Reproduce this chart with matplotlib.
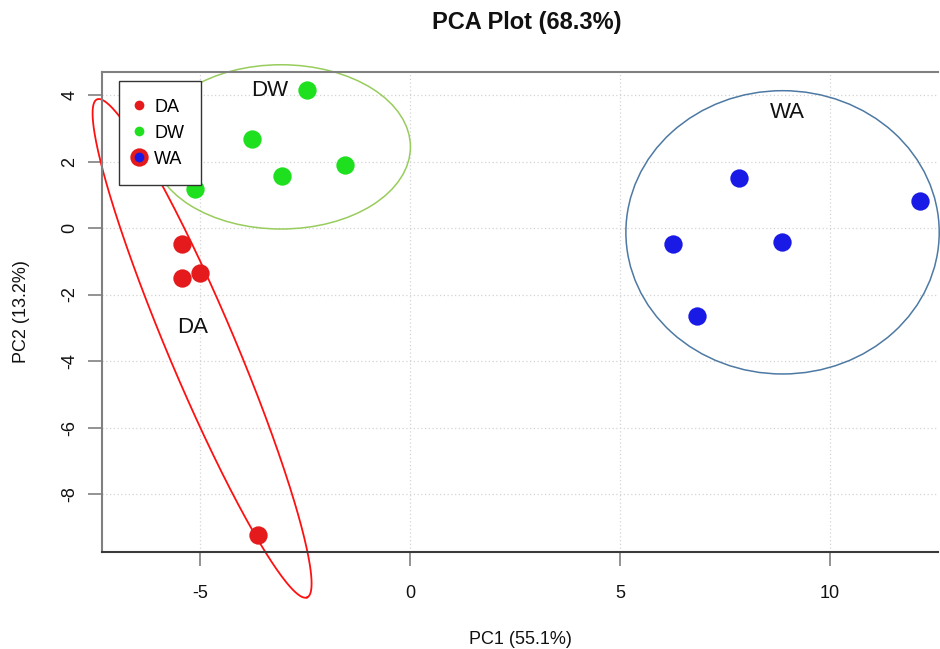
import numpy as np
import matplotlib
matplotlib.use("Agg")
import matplotlib.pyplot as plt
from matplotlib.patches import Ellipse
from matplotlib.lines import Line2D

plt.rcParams["font.family"] = ["Liberation Sans", "DejaVu Sans"]

# ── data ────────────────────────────────────────────────────────────────
da_pc1 = [-5.44, -5.44, -5.01, -3.61]
da_pc2 = [-0.49, -1.49, -1.34, -9.23]
dw_pc1 = [-2.46, -3.76, -3.04, -1.54, -5.12]
dw_pc2 = [4.15, 2.67, 1.56, 1.89, 1.16]
wa_pc1 = [7.84, 12.15, 6.27, 8.85, 6.84]
wa_pc2 = [1.51, 0.81, -0.49, -0.43, -2.65]

# ellipses: centre + semi axes (DW, WA axis-aligned; DA tilted, conjugate vectors)
dw_ell = dict(centre=(-3.07, 2.44), semi=(3.08, 2.47))
wa_ell = dict(centre=(8.87, -0.13), semi=(3.73, 4.26))
da_centre = (-4.95, -3.62)
da_u = (2.50, -7.49)
da_v = (0.74, 0.39)

group_labels = ["DA", "DW", "WA"]
label_pos = [(-5.17, -3.0), (-3.33, 4.15), (8.98, 3.46)]

x_ticks = [-5, 0, 5, 10]
y_ticks = [4, 2, 0, -2, -4, -6, -8]

RED, GREEN, BLUE = "#e41a1c", "#1fe01f", "#1a1ae6"

fig = plt.figure(figsize=(9.4, 6.49), dpi=100)
ax = fig.add_axes([102 / 940, 1 - 552 / 649, 836 / 940, 480 / 649])
ax.set_xlim(-7.333, 12.571)
ax.set_ylim(-9.744, 4.692)

ax.set_xticks(x_ticks)
ax.set_yticks(y_ticks)
ax.grid(True, color="#d4d4d4", lw=0.9, ls=(0, (1, 2)))
ax.set_axisbelow(True)

ms = 13.2
ax.plot(da_pc1, da_pc2, "o", color=RED, ms=ms, mec="none", zorder=3)
ax.plot(dw_pc1, dw_pc2, "o", color=GREEN, ms=ms, mec="none", zorder=3)
ax.plot(wa_pc1, wa_pc2, "o", color=BLUE, ms=ms, mec="none", zorder=3)

# ellipses
ax.add_patch(Ellipse(dw_ell["centre"], 2 * dw_ell["semi"][0], 2 * dw_ell["semi"][1],
                     fill=False, ec="#98cc5c", lw=1.1, zorder=2, clip_on=False))
ax.add_patch(Ellipse(wa_ell["centre"], 2 * wa_ell["semi"][0], 2 * wa_ell["semi"][1],
                     fill=False, ec="#4d79a3", lw=1.1, zorder=2, clip_on=False))
t = np.linspace(0, 2 * np.pi, 400)
ax.plot(da_centre[0] + da_u[0] * np.cos(t) + da_v[0] * np.sin(t),
        da_centre[1] + da_u[1] * np.cos(t) + da_v[1] * np.sin(t),
        color="#ff1010", lw=1.3, zorder=2, clip_on=False)

for lab, (px, py) in zip(group_labels, label_pos):
    ax.text(px, py, lab, fontsize=16, ha="center", va="center", color="#111")

# spines / ticks
for side in ["left", "top"]:
    ax.spines[side].set_color("#808080")
    ax.spines[side].set_linewidth(1.5)
ax.spines["bottom"].set_color("#3a3a3a")
ax.spines["bottom"].set_linewidth(1.5)
ax.spines["right"].set_visible(False)
ax.tick_params(axis="both", length=10, width=1.2, color="#808080",
               labelsize=13, labelcolor="#111")
ax.tick_params(axis="x", pad=14)
ax.tick_params(axis="y", pad=7)
ax.set_xticklabels([str(v) for v in x_ticks])
ax.set_yticklabels([str(v) for v in y_ticks], rotation=90, va="center")

fig.text(520 / 940, 1 - 640 / 649, "PC1 (55.1%)", fontsize=13, ha="center", va="center", color="#111")
fig.text(22 / 940, 1 - 312 / 649, "PC2 (13.2%)", fontsize=13, ha="center", va="center",
         rotation=90, color="#111")
fig.text(527 / 940, 1 - 22 / 649, "PCA Plot (68.3%)", fontsize=17, fontweight="bold",
         ha="center", va="center", color="#111")

# legend (WA entry shows the red blob with blue dot as in the original)
h_da = Line2D([], [], marker="o", ls="none", color=RED, ms=7, mec="none")
h_dw = Line2D([], [], marker="o", ls="none", color=GREEN, ms=7, mec="none")
h_wa_r = Line2D([], [], marker="o", ls="none", color=RED, ms=ms, mec="none")
h_wa_b = Line2D([], [], marker="o", ls="none", color=BLUE, ms=7, mec="none")
leg = ax.legend([h_da, h_dw, (h_wa_r, h_wa_b)], group_labels,
                loc="upper left", bbox_to_anchor=(119 / 940, 1 - 81.5 / 649),
                bbox_transform=fig.transFigure, borderaxespad=0,
                fontsize=13, frameon=True, fancybox=False, framealpha=1,
                edgecolor="#333333", handlelength=0.37, handletextpad=0.62,
                labelspacing=0.5, borderpad=0.95)
leg.get_frame().set_linewidth(1.0)

fig.savefig("out.png", dpi=100, facecolor="white")
